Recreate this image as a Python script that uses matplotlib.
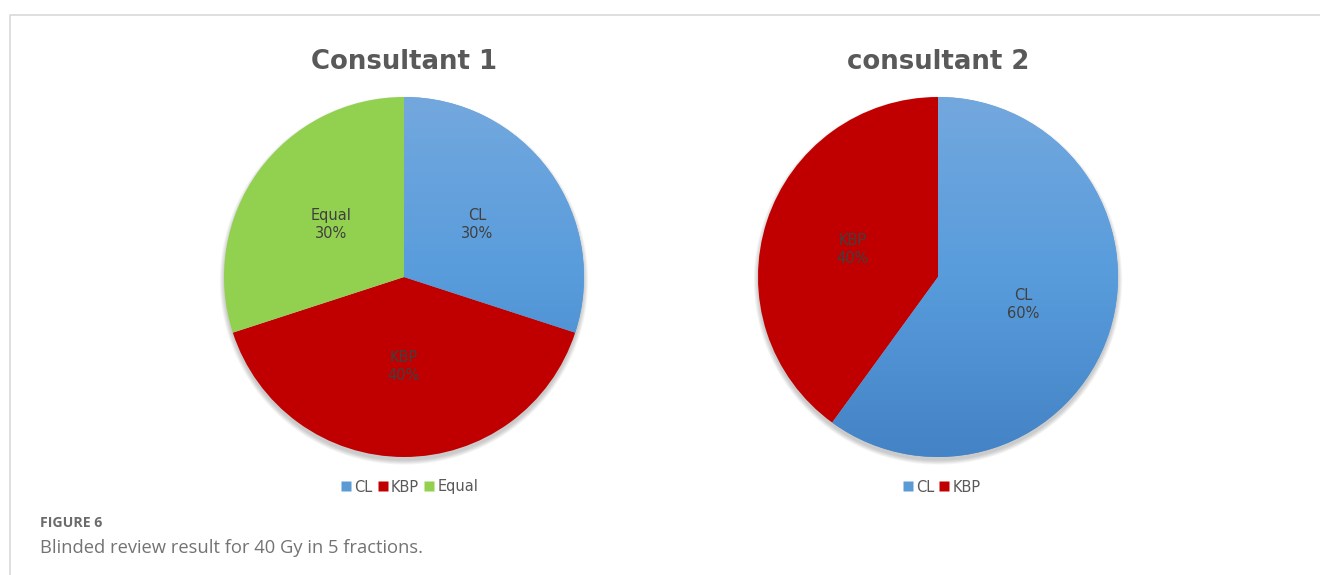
import matplotlib
matplotlib.use("Agg")
import matplotlib.pyplot as plt
import numpy as np
from matplotlib.patches import Circle
from matplotlib.colors import LinearSegmentedColormap
from matplotlib.lines import Line2D

plt.rcParams["font.family"] = ["DejaVu Sans"]

# ---- data ----
titles = ["Consultant 1", "consultant 2"]
labels1 = ["CL", "KBP", "Equal"]
values1 = [30, 40, 30]
labels2 = ["CL", "KBP"]
values2 = [60, 40]
colors = {"CL": "#5B9BD5", "KBP": "#C00000", "Equal": "#92D050"}
caption_head = "FIGURE 6"
caption_text = "Blinded review result for 40 Gy in 5 fractions."

W, H = 1320, 575
fig = plt.figure(figsize=(W / 100, H / 100), dpi=100)
fig.patch.set_facecolor("white")
ax = fig.add_axes([0, 0, 1, 1])
ax.set_xlim(0, W)
ax.set_ylim(0, H)
ax.set_aspect("equal")
ax.axis("off")

# frame
ax.plot([10, 10, W], [0, H - 15, H - 15], color="#d9d9d9", lw=1.2, solid_capstyle="butt")

blue_cmap = LinearSegmentedColormap.from_list("bl", ["#73A8DE", "#589CDC", "#4483C5"])

def draw_pie(cx, cy, r, labels, values, title):
    # soft shadow
    for i in range(6):
        ax.add_patch(Circle((cx, cy - 3.5), r + 0.2 + i * 0.8, facecolor="#000000",
                            alpha=0.035, edgecolor="none", zorder=1))
    wedges, texts = ax.pie(values, colors=[colors[l] for l in labels], startangle=90,
                           counterclock=False, center=(cx, cy), radius=r,
                           wedgeprops=dict(linewidth=0), frame=True)
    for w in wedges:
        w.set_zorder(2)
    # gradient on the blue wedge
    for w, l in zip(wedges, labels):
        if l == "CL":
            grad = np.linspace(0, 1, 256).reshape(-1, 1)
            im = ax.imshow(grad, cmap=blue_cmap, extent=(cx - r, cx + r, cy - r, cy + r),
                           origin="upper", aspect="auto", zorder=3, interpolation="bilinear")
            im.set_clip_path(w)
    total = sum(values)
    for w, l, v in zip(wedges, labels, values):
        theta = np.deg2rad((w.theta1 + w.theta2) / 2)
        d = 0.5 * r
        x = cx + d * np.cos(theta)
        y = cy + d * np.sin(theta)
        ax.text(x, y, f"{l}\n{v / total * 100:.0f}%", ha="center", va="center",
                fontsize=10.5, color="#404040", zorder=5, linespacing=1.25)
    ax.text(cx, H - 62, title, ha="center", va="center", fontsize=18.7,
            fontweight="bold", color="#595959")
    ax.set_xlim(0, W)
    ax.set_ylim(0, H)
    ax.axis("off")

draw_pie(404, H - 277, 180, labels1, values1, titles[0])
draw_pie(938, H - 277, 180, labels2, values2, titles[1])

def legend(cx, labels):
    handles = [Line2D([], [], marker="s", linestyle="none", markersize=6.5,
                      markerfacecolor=colors[l], markeredgecolor="none", label=l) for l in labels]
    leg = ax.legend(handles=handles, loc="center", bbox_to_anchor=(cx / W, 1 - 487 / H),
                    bbox_transform=fig.transFigure, ncol=len(labels), frameon=False,
                    fontsize=10.5, handlelength=0.6, handletextpad=0.25, columnspacing=0.4,
                    labelcolor="#595959")
    return leg

leg1 = legend(410, labels1)
ax.add_artist(leg1)
legend(942, labels2)

fig.text(40 / W, 1 - 523 / H, caption_head, ha="left", va="center", fontsize=10.2,
         fontweight="bold", color="#6b6b6b", family=["Open Sans", "DejaVu Sans"])
fig.text(40 / W, 1 - 548 / H, caption_text, ha="left", va="center", fontsize=13.2,
         color="#737373", family=["Open Sans", "DejaVu Sans"])

fig.savefig("out.png", dpi=100, facecolor="white")
